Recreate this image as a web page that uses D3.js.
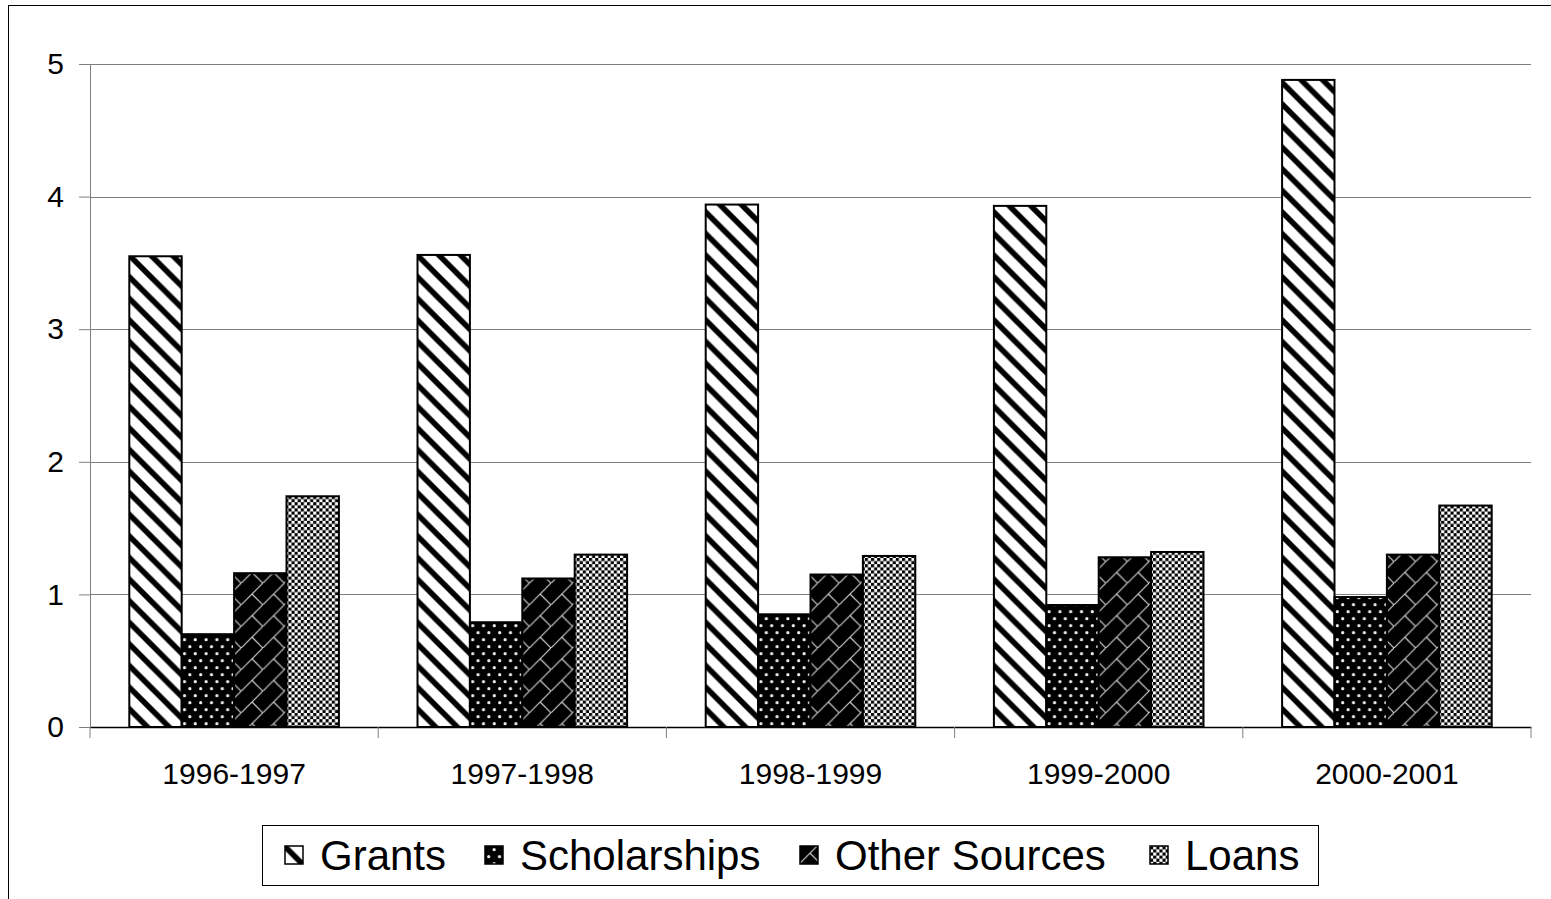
<!DOCTYPE html>
<html><head><meta charset="utf-8">
<script src="https://cdn.jsdelivr.net/npm/d3@7"></script>
<style>html,body{margin:0;padding:0;background:#fff;overflow:hidden}</style>
</head><body>
<svg id="chart" width="1551" height="899"></svg>
<script>
const categories = ["1996-1997","1997-1998","1998-1999","1999-2000","2000-2001"];
const seriesNames = ["Grants","Scholarships","Other Sources","Loans"];
const grants       = [3.55, 3.56, 3.94, 3.93, 4.88];
const scholarships = [0.70, 0.79, 0.85, 0.92, 0.98];
const otherSources = [1.16, 1.12, 1.15, 1.28, 1.30];
const loans        = [1.74, 1.30, 1.29, 1.32, 1.67];
const yTicks = [0,1,2,3,4,5];

const seriesValues = [grants, scholarships, otherSources, loans];
const patternIds = ["pGrants","pScholar","pOther","pLoans"];

const svg = d3.select("#chart");
const font = "'Liberation Sans', Arial, sans-serif";

// Patterns
const defs = svg.append("defs");
const P = 21.6;
// Grants: wide downward diagonal
{
  const p = defs.append("pattern").attr("id","pGrants").attr("patternUnits","userSpaceOnUse")
    .attr("width",P).attr("height",P);
  p.append("rect").attr("width",P).attr("height",P).attr("fill","#fff");
  [-1,0,1].forEach(k=>{
    p.append("line").attr("x1",k*P-2).attr("y1",-2).attr("x2",k*P+P+2).attr("y2",P+2)
     .attr("stroke","#000").attr("stroke-width",5.6);
  });
}
// Scholarships: black with white dots
{
  const w = 10.8, h = 14;
  const p = defs.append("pattern").attr("id","pScholar").attr("patternUnits","userSpaceOnUse")
    .attr("width",w).attr("height",h);
  p.append("rect").attr("width",w).attr("height",h).attr("fill","#000");
  [[2.7,2.7],[8.1,9.7]].forEach(([cx,cy])=>{
    p.append("circle").attr("cx",cx).attr("cy",cy).attr("r",1.6).attr("fill","#eee");
  });
}
// Other sources: diagonal brick, black with light lines
{
  const p = defs.append("pattern").attr("id","pOther").attr("patternUnits","userSpaceOnUse")
    .attr("width",P).attr("height",P);
  p.append("rect").attr("width",P).attr("height",P).attr("fill","#000");
  p.append("line").attr("x1",-1).attr("y1",P+1).attr("x2",P+1).attr("y2",-1)
    .attr("stroke","#ccc").attr("stroke-width",1.2);
  p.append("line").attr("x1",P/2).attr("y1",P/2).attr("x2",P).attr("y2",P)
    .attr("stroke","#ccc").attr("stroke-width",1.2);
}
// Loans: small checkerboard
{
  const s = 6.2;
  const p = defs.append("pattern").attr("id","pLoans").attr("patternUnits","userSpaceOnUse")
    .attr("width",s).attr("height",s);
  p.append("rect").attr("width",s).attr("height",s).attr("fill","#fff");
  p.append("rect").attr("x",0).attr("y",0).attr("width",s/2).attr("height",s/2).attr("fill","#000");
  p.append("rect").attr("x",s/2).attr("y",s/2).attr("width",s/2).attr("height",s/2).attr("fill","#000");
}

// Outer frame
svg.append("rect").attr("x",8.5).attr("y",5.5).attr("width",1700).attr("height",1000)
  .attr("fill","none").attr("stroke","#000").attr("stroke-width",1);

const x0 = d3.scaleBand().domain(categories).range([90,1531]).paddingInner(0).paddingOuter(0);
const bw = x0.bandwidth();
// Excel gap width 150%
const barW = bw/(4+1.5);
const x1 = d3.scaleBand().domain(seriesNames).range([barW*0.75, barW*0.75 + barW*4]).padding(0);
const y = d3.scaleLinear().domain([0,5]).range([727,64]);

// Gridlines
svg.append("g").selectAll("line").data(yTicks.filter(d=>d>0)).join("line")
  .attr("x1",90).attr("x2",1531)
  .attr("y1",d=>Math.round(y(d))+0.5).attr("y2",d=>Math.round(y(d))+0.5)
  .attr("stroke","#808080").attr("stroke-width",1);

// Bars
const groups = svg.append("g").selectAll("g").data(categories).join("g")
  .attr("transform",c=>`translate(${x0(c)},0)`);
groups.selectAll("rect").data((c,i)=>seriesNames.map((s,j)=>({s,j,v:seriesValues[j][i]}))).join("rect")
  .attr("x",d=>x1(d.s)).attr("width",x1.bandwidth())
  .attr("y",d=>y(d.v)).attr("height",d=>y(0)-y(d.v))
  .attr("fill",d=>`url(#${patternIds[d.j]})`)
  .attr("stroke","#000").attr("stroke-width",2);

// Y axis
const yAxis = svg.append("g").attr("transform","translate(90,0)")
  .call(d3.axisLeft(y).tickValues(yTicks).tickFormat(d3.format("d")).tickSize(11).tickPadding(15));
yAxis.select(".domain").attr("stroke","#808080");
yAxis.selectAll(".tick line").attr("stroke","#808080");
yAxis.selectAll("text").attr("font-family",font).attr("font-size",30).attr("fill","#000");

// X axis
const xAxis = svg.append("g").attr("transform","translate(0,727)")
  .call(d3.axisBottom(x0).tickSize(0).tickPadding(0));
xAxis.select(".domain").attr("stroke","#000").attr("stroke-width",1.5);
xAxis.selectAll(".tick text").attr("font-family",font).attr("font-size",30).attr("fill","#000")
  .attr("dy",0).attr("y",57);
// category boundary ticks
svg.append("g").selectAll("line").data(d3.range(categories.length+1)).join("line")
  .attr("x1",i=>i<categories.length?x0(categories[i]):x0(categories[categories.length-1])+bw)
  .attr("x2",i=>i<categories.length?x0(categories[i]):x0(categories[categories.length-1])+bw)
  .attr("y1",727).attr("y2",738).attr("stroke","#808080").attr("stroke-width",1);

// Legend
const legend = svg.append("g");
legend.append("rect").attr("x",262.5).attr("y",825.5).attr("width",1056).attr("height",60)
  .attr("fill","#fff").attr("stroke","#000").attr("stroke-width",1);
const legendX = [285, 485, 800, 1150];
seriesNames.forEach((s,j)=>{
  const g = legend.append("g");
  g.append("rect").attr("x",legendX[j]).attr("y",846).attr("width",18).attr("height",18)
    .attr("fill",`url(#${patternIds[j]})`).attr("stroke","#000").attr("stroke-width",1.5);
  g.append("text").attr("x",legendX[j]+35).attr("y",870)
    .attr("font-family",font).attr("font-size",42).attr("fill","#000").text(s);
});
</script>
</body></html>
